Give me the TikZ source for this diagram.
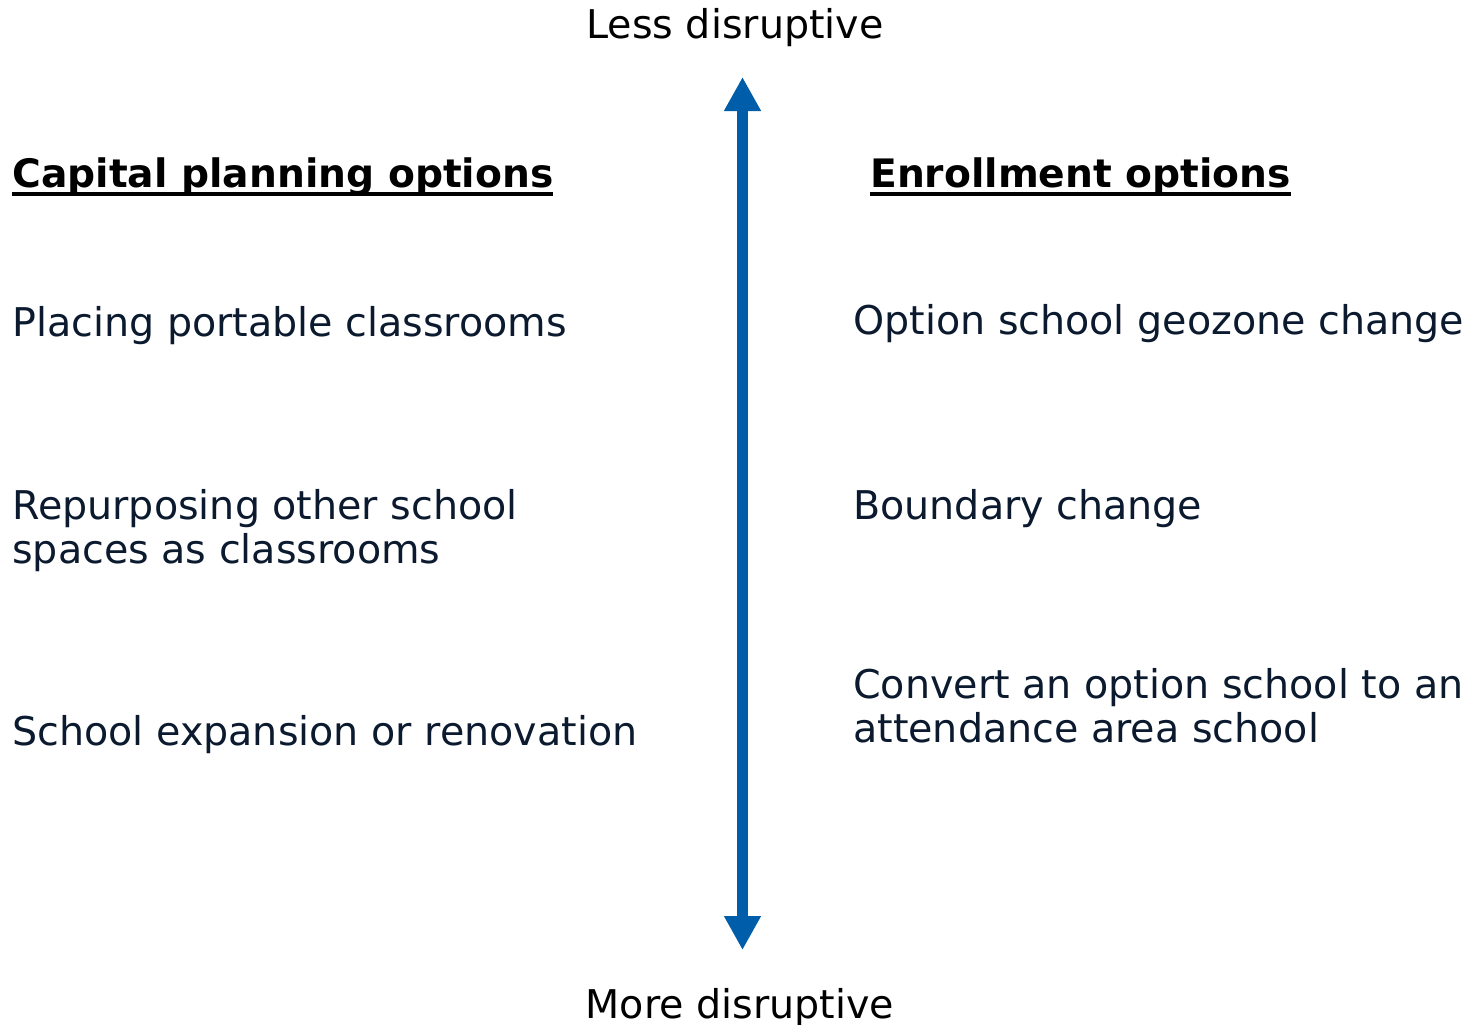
\documentclass[tikz,border=0pt]{standalone}
\usepackage{fontspec}
\setmainfont{DejaVu Sans}
\usetikzlibrary{arrows.meta}
\definecolor{txt}{HTML}{0B1A2E}
\definecolor{arr}{HTML}{005DAA}
\newcommand{\ul}[1]{\setbox0\hbox{#1}\rlap{\rule[-6.75pt]{\wd0}{3pt}}\box0}
\begin{document}
\begin{tikzpicture}[x=0.75pt,y=-0.75pt,
  item/.style={anchor=base west,inner sep=0pt,text=txt,font=\fontsize{29.7pt}{32.3pt}\selectfont,align=left},
  head/.style={anchor=base west,inner sep=0pt,text=black,font=\fontsize{29.4pt}{32.3pt}\selectfont\bfseries},
  pole/.style={anchor=base,inner sep=0pt,text=black,font=\fontsize{29.7pt}{32.3pt}\selectfont}]
\useasboundingbox (0,0) rectangle (1479,1025);
\node[pole] (less) at (735,38) {Less disruptive};
\node[pole] (more) at (740,1018) {More disruptive};
\coordinate (top) at (742.5,77);
\coordinate (bot) at (742.5,950);
\draw[arr,line width=8.25pt,{Triangle[width=26pt,length=25.5pt]}-{Triangle[width=26pt,length=25.5pt]}] (top) -- (bot);
\node[head] (cap) at (12,187) {\ul{Capital planning options}};
\node[head] (enr) at (870,187) {\ul{Enrollment options}};
\node[item] (c1) at (12,336) {Placing portable classrooms};
\node[item] (c2) at (12,563) {Repurposing other school\\spaces as classrooms};
\node[item] (c3) at (12,745) {School expansion or renovation};
\node[item] (e1) at (853,334) {Option school geozone change};
\node[item] (e2) at (853,519) {Boundary change};
\node[item] (e3) at (853,742) {Convert an option school to an\\attendance area school};
\end{tikzpicture}
\end{document}
